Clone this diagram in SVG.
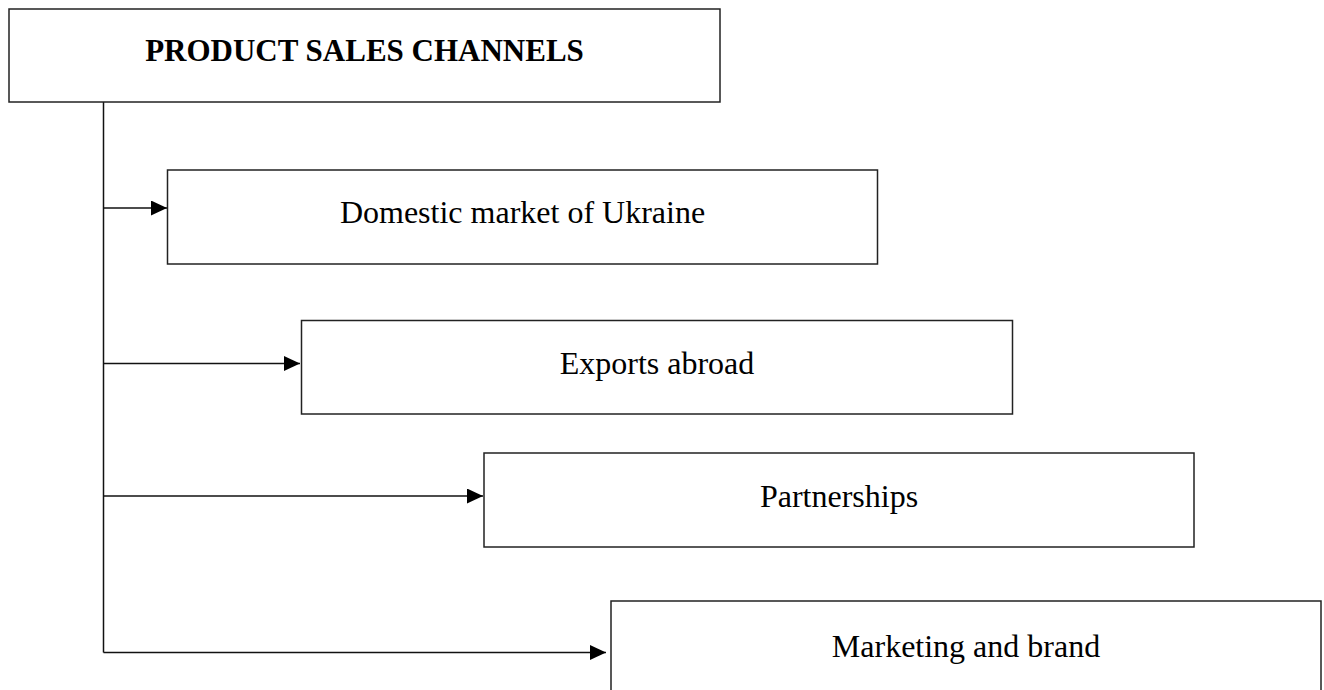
<svg xmlns="http://www.w3.org/2000/svg" width="1324" height="690" viewBox="0 0 1324 690">
  <style>
    .box { fill: #fff; stroke: #222; stroke-width: 1.5; }
    .lbl { font-family: "Liberation Serif", "Times New Roman", serif; font-size: 32px; fill: #000; text-anchor: middle; }
    .title { font-weight: bold; font-size: 31px; }
    .conn { fill: none; stroke: #111; stroke-width: 1.5; }
  </style>
  <defs>
    <marker id="arrow" markerUnits="userSpaceOnUse" markerWidth="17" markerHeight="15" refX="16" refY="7.5" orient="auto">
      <path d="M0,0 L16,7.5 L0,15 Z" fill="#000"/>
    </marker>
  </defs>
  <rect width="1324" height="690" fill="#fff"/>

  <g id="connectors">
    <path class="conn" d="M103.5,102 V652.5"/>
    <path class="conn" d="M103.5,208 H167" marker-end="url(#arrow)"/>
    <path class="conn" d="M103.5,363.5 H300" marker-end="url(#arrow)"/>
    <path class="conn" d="M103.5,496 H483" marker-end="url(#arrow)"/>
    <path class="conn" d="M103.5,652.5 H606" marker-end="url(#arrow)"/>
  </g>

  <g id="node-title">
    <rect class="box" x="9" y="9" width="711" height="93"/>
    <text class="lbl title" x="364.5" y="61">PRODUCT SALES CHANNELS</text>
  </g>

  <g id="node-domestic">
    <rect class="box" x="167.5" y="170" width="710" height="94"/>
    <text class="lbl" x="522.5" y="223">Domestic market of Ukraine</text>
  </g>

  <g id="node-exports">
    <rect class="box" x="301.5" y="320.5" width="711" height="93.5"/>
    <text class="lbl" x="657" y="374">Exports abroad</text>
  </g>

  <g id="node-partnerships">
    <rect class="box" x="484" y="453" width="710" height="94"/>
    <text class="lbl" x="839" y="507">Partnerships</text>
  </g>

  <g id="node-marketing">
    <rect class="box" x="611" y="601" width="710" height="100"/>
    <text class="lbl" x="966" y="657">Marketing and brand</text>
  </g>
</svg>
